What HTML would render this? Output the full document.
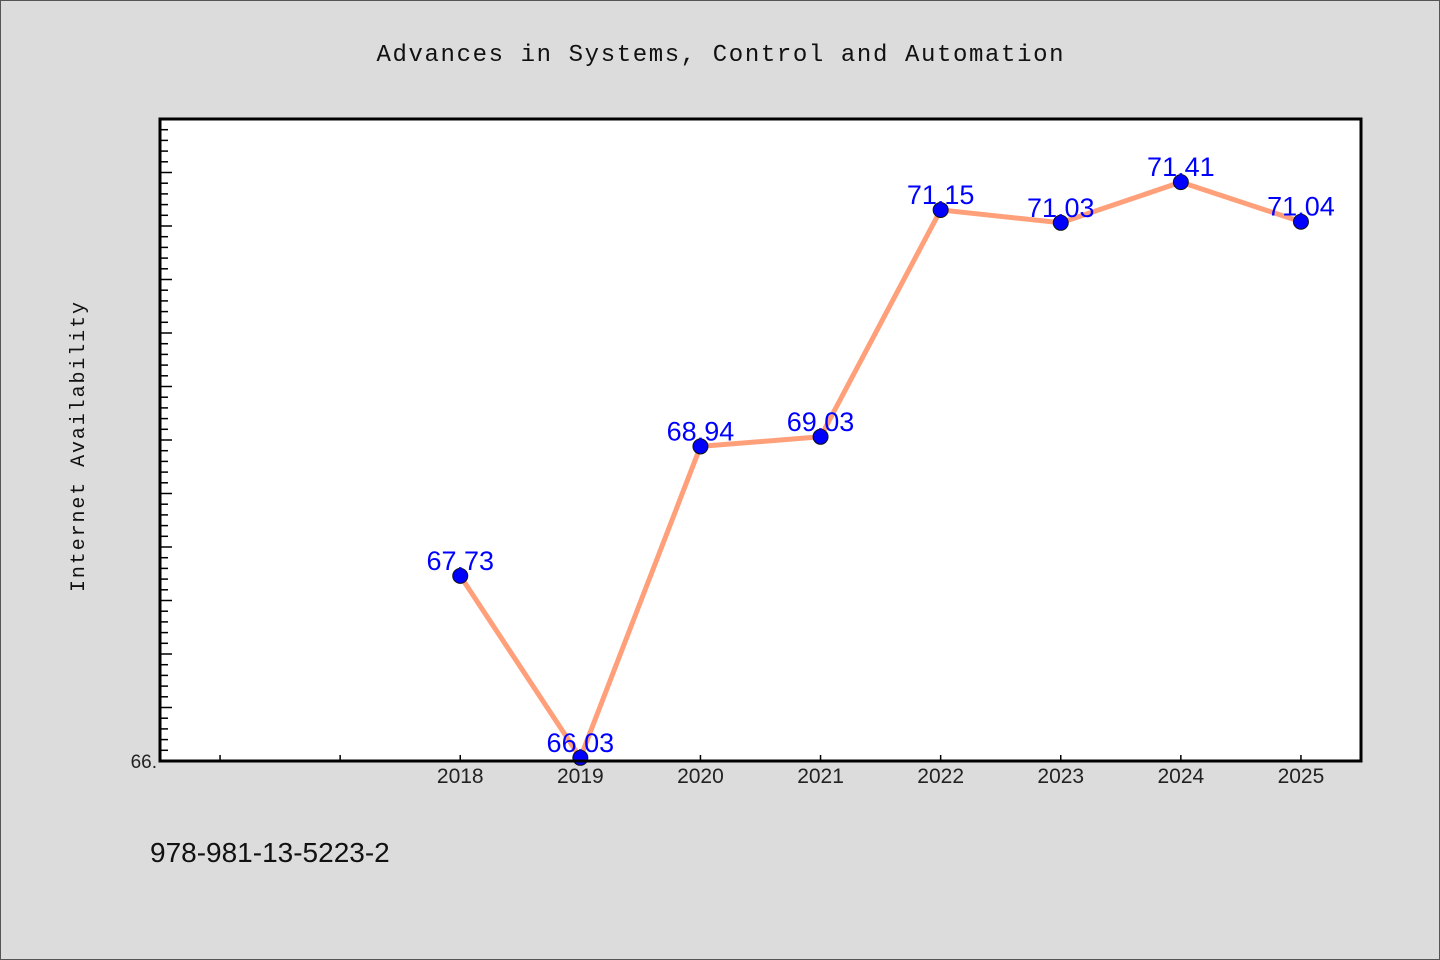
<!DOCTYPE html>
<html><head><meta charset="utf-8"><style>
html,body{margin:0;padding:0;background:#dcdcdc;}
svg{display:block;}
</style></head><body>
<svg width="1440" height="960" xmlns="http://www.w3.org/2000/svg">
<rect x="0.5" y="0.5" width="1439" height="959" fill="#dcdcdc" stroke="#555"/>
<text x="720" y="61" text-anchor="middle" font-family="'Liberation Mono',monospace" font-size="24" textLength="687" fill="#111">Advances in Systems, Control and Automation</text>
<text transform="translate(84,447) rotate(-90)" text-anchor="middle" font-family="'Liberation Mono',monospace" font-size="20" textLength="290" fill="#111">Internet Availability</text>
<rect x="160" y="119" width="1201" height="642" fill="#fff"/>
<g id="ticks"></g>
<g id="marks"></g>
<rect x="160" y="119" width="1201" height="642" fill="none" stroke="#000" stroke-width="3"/>
<text x="150" y="862" font-family="'Liberation Sans','WenQuanYi Zen Hei',sans-serif" font-size="28" fill="#111">978-981-13-5223-2</text>
</svg>
<script>
const years = [2018, 2019, 2020, 2021, 2022, 2023, 2024, 2025];
const values = [67.73, 66.03, 68.94, 69.03, 71.15, 71.03, 71.41, 71.04];
const labels = ["67.73", "66.03", "68.94", "69.03", "71.15", "71.03", "71.41", "71.04"];
const xMin = 2015.5, xMax = 2025.5, yMin = 66.0, yMax = 72.0;
const L = 160, R = 1361, T = 119, B = 761;
const NS = "http://www.w3.org/2000/svg";
function sx(v){ return L + (v - xMin) / (xMax - xMin) * (R - L); }
function sy(v){ return B - (v - yMin) / (yMax - yMin) * (B - T); }
function mk(tag, attrs, parent){ const e = document.createElementNS(NS, tag); for (const k in attrs) e.setAttribute(k, attrs[k]); parent.appendChild(e); return e; }
const tg = document.getElementById('ticks');
for (let i = 0; i <= 60; i++) {
  const v = yMin + i * 0.1; const y = sy(v); const major = i % 5 === 0;
  const t = mk('line', {x1: L, x2: L + (major ? 12 : 8), y1: y, y2: y, stroke: '#000', 'stroke-width': 1.5}, tg);
  
  
}
const yl = mk('text', {x: 157, y: 768, 'text-anchor': 'end', 'font-family': "'Liberation Sans',sans-serif", 'font-size': 19, fill: '#222'}, tg);
yl.textContent = '66.';


for (let yr = 2016; yr <= 2025; yr++) {
  const x = sx(yr);
  const t = mk('line', {x1: x, x2: x, y1: B, y2: B - 6, stroke: '#000', 'stroke-width': 1.5}, tg);
  
  
}
years.forEach(yr => {
  const t = mk('text', {x: sx(yr), y: 783, 'text-anchor': 'middle', 'font-family': "'Liberation Sans','WenQuanYi Zen Hei',sans-serif", 'font-size': 21, fill: '#222'}, tg);
  t.textContent = String(yr);
  
  
});
const mg = document.getElementById('marks');
const pts = years.map((yr, i) => sx(yr) + ',' + sy(values[i])).join(' ');
const pl = mk('polyline', {points: pts, fill: 'none', stroke: '#ffa07a', 'stroke-width': 5, 'stroke-linejoin': 'round'}, mg);


years.forEach((yr, i) => {
  const c = mk('circle', {cx: sx(yr), cy: sy(values[i]), r: 7.5, fill: '#0000ff', stroke: '#111', 'stroke-width': 1}, mg);
  
  
});
years.forEach((yr, i) => {
  const t = mk('text', {x: sx(yr), y: sy(values[i]) - 6, 'text-anchor': 'middle', 'font-family': "'Liberation Sans','WenQuanYi Zen Hei',sans-serif", 'font-size': 27, fill: '#0000ff'}, mg);
  t.textContent = labels[i];
  
  
});
</script>
</body></html>
